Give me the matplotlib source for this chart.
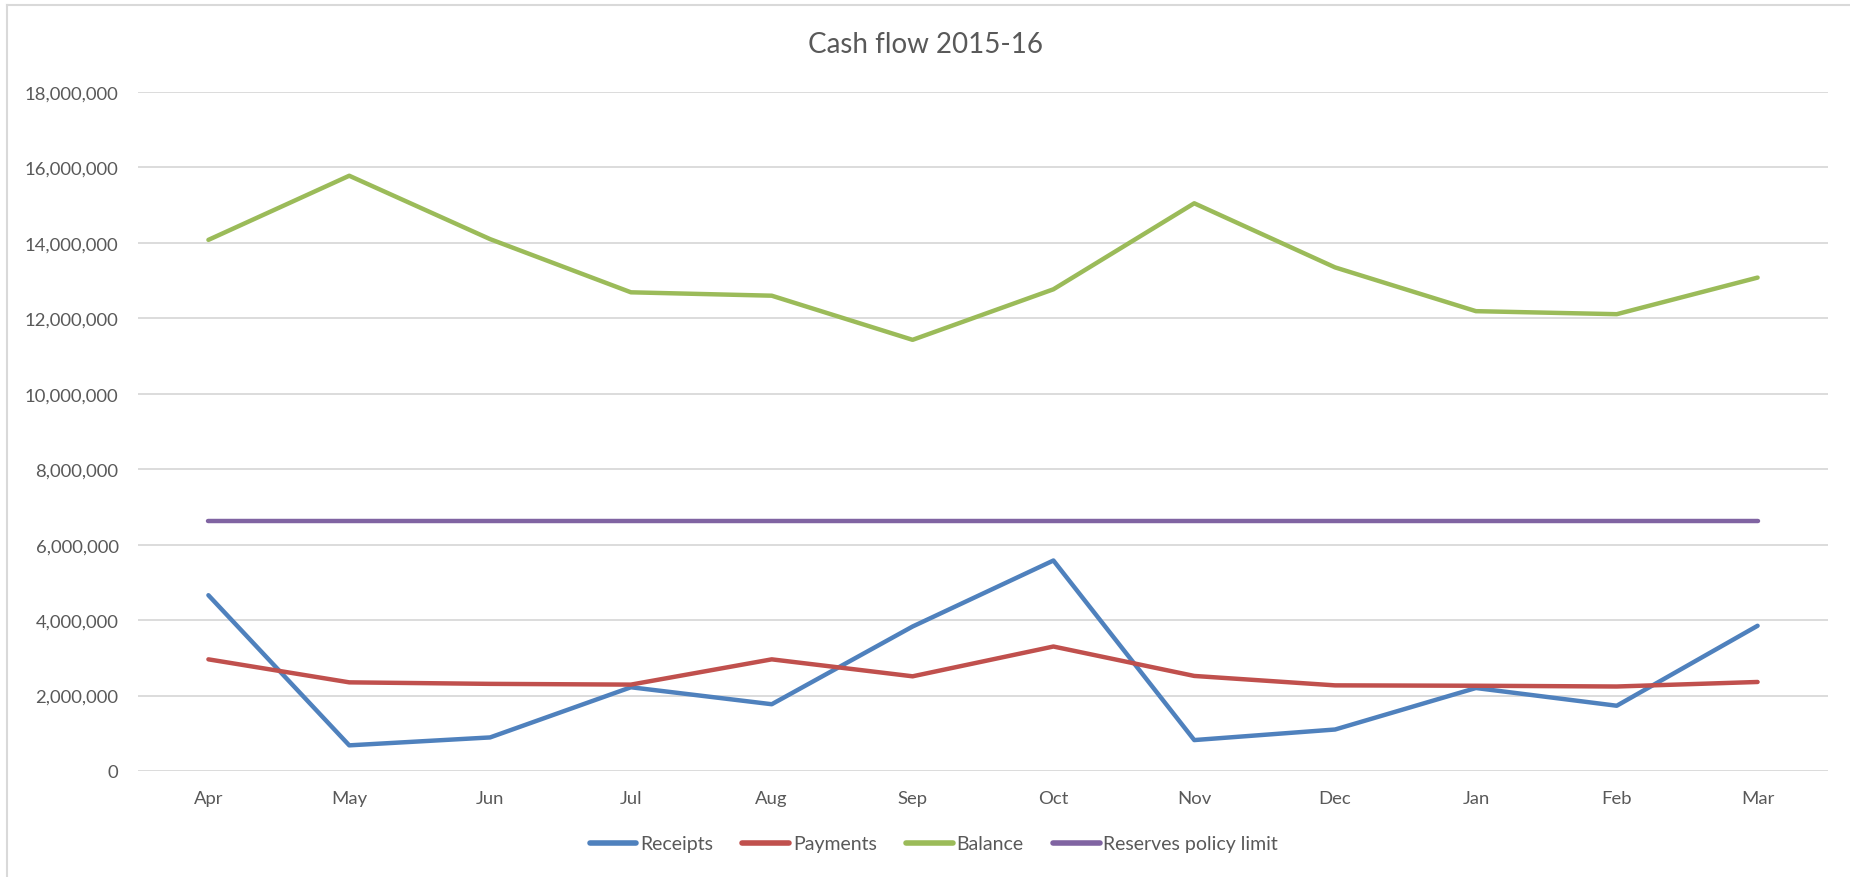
import matplotlib
matplotlib.use("Agg")
import matplotlib.pyplot as plt
from matplotlib.lines import Line2D
from matplotlib.ticker import FuncFormatter, MultipleLocator

months = ["Apr", "May", "Jun", "Jul", "Aug", "Sep", "Oct", "Nov", "Dec", "Jan", "Feb", "Mar"]
receipts = [4660000, 680000, 890000, 2220000, 1770000, 3830000,
            5580000, 820000, 1100000, 2200000, 1730000, 3850000]
payments = [2960000, 2350000, 2310000, 2290000, 2960000, 2510000,
            3300000, 2520000, 2270000, 2260000, 2240000, 2360000]
balance = [14080000, 15780000, 14100000, 12690000, 12600000, 11430000,
           12770000, 15050000, 13350000, 12190000, 12110000, 13080000]
reserves_limit = [6620000] * 12

series = [
    ("Receipts", receipts, "#4F81BD"),
    ("Payments", payments, "#C0504D"),
    ("Balance", balance, "#9BBB59"),
    ("Reserves policy limit", reserves_limit, "#8064A2"),
]

TEXT = "#595959"
GRID = "#D9D9D9"
FONT = ["Lato", "DejaVu Sans"]

W, H = 1850, 878
fig = plt.figure(figsize=(W / 100, H / 100), dpi=100)
fig.patch.set_facecolor("white")
ax = fig.add_axes([138 / W, 1 - 772 / H, (1828 - 138) / W, (772 - 93) / H])

x = list(range(len(months)))
for name, vals, color in series:
    ax.plot(x, vals, color=color, lw=3.2, solid_capstyle="round",
            solid_joinstyle="round", label=name, zorder=3)

ax.set_xlim(-0.5, len(months) - 0.5)
ax.set_ylim(0, 18000000)
ax.yaxis.set_major_locator(MultipleLocator(2000000))
ax.yaxis.set_major_formatter(FuncFormatter(lambda v, p: f"{int(v):,}"))
ax.set_xticks(x)
ax.set_xticklabels(months)
ax.grid(axis="y", color=GRID, lw=1.3, zorder=0)
ax.set_axisbelow(True)
for s in ax.spines.values():
    s.set_visible(False)
ax.tick_params(axis="both", length=0, colors=TEXT, labelsize=13.3)
ax.tick_params(axis="y", pad=14)
ax.tick_params(axis="x", pad=14)
for lab in ax.get_xticklabels() + ax.get_yticklabels():
    lab.set_family(FONT)

fig.text(0.5, 1 - 45 / H, "Cash flow 2015-16", ha="center", va="center",
         fontsize=20, color=TEXT, family=FONT)

handles = [Line2D([], [], color=c, lw=4, solid_capstyle="round") for _, _, c in series]
leg = fig.legend(handles, [n for n, _, _ in series], loc="center",
                 bbox_to_anchor=(934 / W, 1 - 845 / H), ncol=4, frameon=False,
                 handlelength=2.4, handletextpad=0.2, columnspacing=1.5,
                 prop={"family": FONT, "size": 14})
for t in leg.get_texts():
    t.set_color(TEXT)

# chart border (left and top edges visible)
fig.add_artist(Line2D([7 / W, 7 / W], [0, 1 - 6 / H], transform=fig.transFigure,
                      color=GRID, lw=1.5))
fig.add_artist(Line2D([7 / W, 1], [1 - 6 / H, 1 - 6 / H], transform=fig.transFigure,
                      color=GRID, lw=1.5))

fig.savefig("out.png", dpi=100, facecolor="white")
